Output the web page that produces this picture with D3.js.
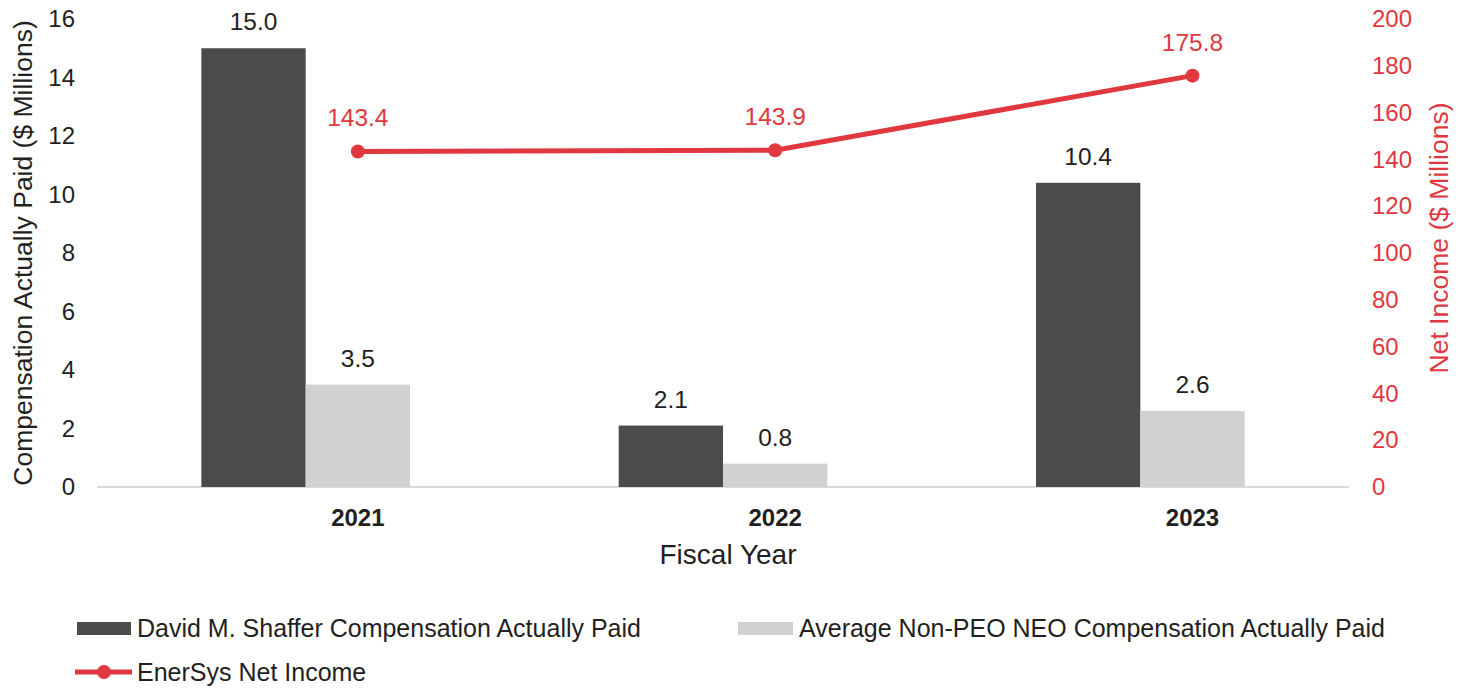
<!DOCTYPE html>
<html lang="en">
<head>
<meta charset="UTF-8">
<title>Compensation Actually Paid vs Net Income</title>
<style>
  body { margin: 0; background: #fff; }
  text { font-family: "Liberation Sans", Arial, sans-serif; }
</style>
</head>
<body>
<svg id="chart" width="1471" height="688"></svg>
<script src="https://cdn.jsdelivr.net/npm/d3@7"></script>
<script>
var years = ['2021', '2022', '2023'];
var ceoPay = [15.0, 2.1, 10.4];
var neoPay = [3.5, 0.8, 2.6];
var netIncome = [143.4, 143.9, 175.8];
var leftTicks = [0, 2, 4, 6, 8, 10, 12, 14, 16];
var rightTicks = [0, 20, 40, 60, 80, 100, 120, 140, 160, 180, 200];

var dark = '#4a4b4d', light = '#d0d1d3', red = '#e1373e', ink = '#231f20';
var margin = {l: 97, r: 122, t: 19, b: 201};
var width = 1471, height = 688;
var svg = d3.select('#chart');

var x0 = d3.scaleBand().domain(years).range([margin.l, width - margin.r])
    .paddingInner(0.5).paddingOuter(0.25);
var x1 = d3.scaleBand().domain(['ceo', 'neo']).range([0, x0.bandwidth()]);
var yL = d3.scaleLinear().domain([0, 16]).range([height - margin.b, margin.t]);
var yR = d3.scaleLinear().domain([0, 200]).range([height - margin.b, margin.t]);

// the line and the year labels sit over the centre of the second bar
function cx(yr) { return x0(yr) + x1('neo') + x1.bandwidth() / 2; }

// baseline
svg.append('line')
    .attr('x1', margin.l).attr('x2', width - margin.r)
    .attr('y1', yL(0)).attr('y2', yL(0))
    .attr('stroke', '#d9d9d9').attr('stroke-width', 2);

// left axis
var gl = svg.append('g').attr('transform', 'translate(' + (margin.l - 22) + ',0)')
    .call(d3.axisLeft(yL).tickValues(leftTicks).tickSize(0).tickPadding(0));
gl.select('.domain').remove();
gl.selectAll('text').attr('font-size', 24).attr('fill', ink)
    .style('font-family', '"Liberation Sans", Arial, sans-serif');

// right axis
var gr = svg.append('g').attr('transform', 'translate(' + (width - margin.r + 23) + ',0)')
    .call(d3.axisRight(yR).tickValues(rightTicks).tickSize(0).tickPadding(0));
gr.select('.domain').remove();
gr.selectAll('text').attr('font-size', 24).attr('fill', red)
    .style('font-family', '"Liberation Sans", Arial, sans-serif');

// axis titles
svg.append('text')
    .attr('transform', 'translate(32,' + ((yL(0) + yL(16)) / 2) + ') rotate(-90)')
    .attr('text-anchor', 'middle').attr('font-size', 26.5).attr('fill', ink)
    .text('Compensation Actually Paid ($ Millions)');
svg.append('text')
    .attr('transform', 'translate(1448,238) rotate(-90)')
    .attr('text-anchor', 'middle').attr('font-size', 26.5).attr('fill', red)
    .text('Net Income ($ Millions)');

// bars
var rows = years.map(function (yr, i) { return {year: yr, ceo: ceoPay[i], neo: neoPay[i]}; });
var groups = svg.selectAll('g.year').data(rows).enter().append('g')
    .attr('class', 'year')
    .attr('transform', function (d) { return 'translate(' + x0(d.year) + ',0)'; });
['ceo', 'neo'].forEach(function (key) {
    groups.append('rect')
        .attr('x', x1(key)).attr('width', x1.bandwidth())
        .attr('y', function (d) { return yL(d[key]); })
        .attr('height', function (d) { return yL(0) - yL(d[key]); })
        .attr('fill', key === 'ceo' ? dark : light);
    groups.append('text')
        .attr('x', x1(key) + x1.bandwidth() / 2)
        .attr('y', function (d) { return yL(d[key]) - 18; })
        .attr('text-anchor', 'middle').attr('font-size', 24.5).attr('fill', ink)
        .text(function (d) { return d[key].toFixed(1); });
});

// year labels
svg.selectAll('text.yr').data(years).enter().append('text')
    .attr('class', 'yr')
    .attr('x', cx).attr('y', yL(0) + 39)
    .attr('text-anchor', 'middle').attr('font-size', 24).attr('font-weight', 'bold')
    .attr('fill', ink)
    .text(function (d) { return d; });
svg.append('text')
    .attr('x', 728).attr('y', yL(0) + 77)
    .attr('text-anchor', 'middle').attr('font-size', 28).attr('fill', ink)
    .text('Fiscal Year');

// net income line
var pts = years.map(function (yr, i) { return {year: yr, v: netIncome[i]}; });
svg.append('path').datum(pts)
    .attr('fill', 'none').attr('stroke', red).attr('stroke-width', 5)
    .attr('d', d3.line().x(function (d) { return cx(d.year); }).y(function (d) { return yR(d.v); }));
svg.selectAll('circle.pt').data(pts).enter().append('circle')
    .attr('class', 'pt')
    .attr('cx', function (d) { return cx(d.year); })
    .attr('cy', function (d) { return yR(d.v); })
    .attr('r', 7).attr('fill', red);
svg.selectAll('text.ni').data(pts).enter().append('text')
    .attr('class', 'ni')
    .attr('x', function (d) { return cx(d.year); })
    .attr('y', function (d) { return yR(d.v) - 25; })
    .attr('text-anchor', 'middle').attr('font-size', 24.5).attr('fill', red)
    .text(function (d) { return d.v.toFixed(1); });

// legend
var lg = svg.append('g').attr('font-size', 25).attr('fill', ink);
lg.append('rect').attr('x', 77).attr('y', 622).attr('width', 54).attr('height', 13).attr('fill', dark);
lg.append('text').attr('x', 137).attr('y', 637).text('David M. Shaffer Compensation Actually Paid');
lg.append('rect').attr('x', 738).attr('y', 622).attr('width', 55).attr('height', 13).attr('fill', light);
lg.append('text').attr('x', 799).attr('y', 637).text('Average Non-PEO NEO Compensation Actually Paid');
lg.append('line').attr('x1', 75).attr('x2', 132).attr('y1', 672).attr('y2', 672)
    .attr('stroke', red).attr('stroke-width', 5);
lg.append('circle').attr('cx', 104).attr('cy', 672).attr('r', 7).attr('fill', red);
lg.append('text').attr('x', 137).attr('y', 681).text('EnerSys Net Income');
</script>
</body>
</html>
